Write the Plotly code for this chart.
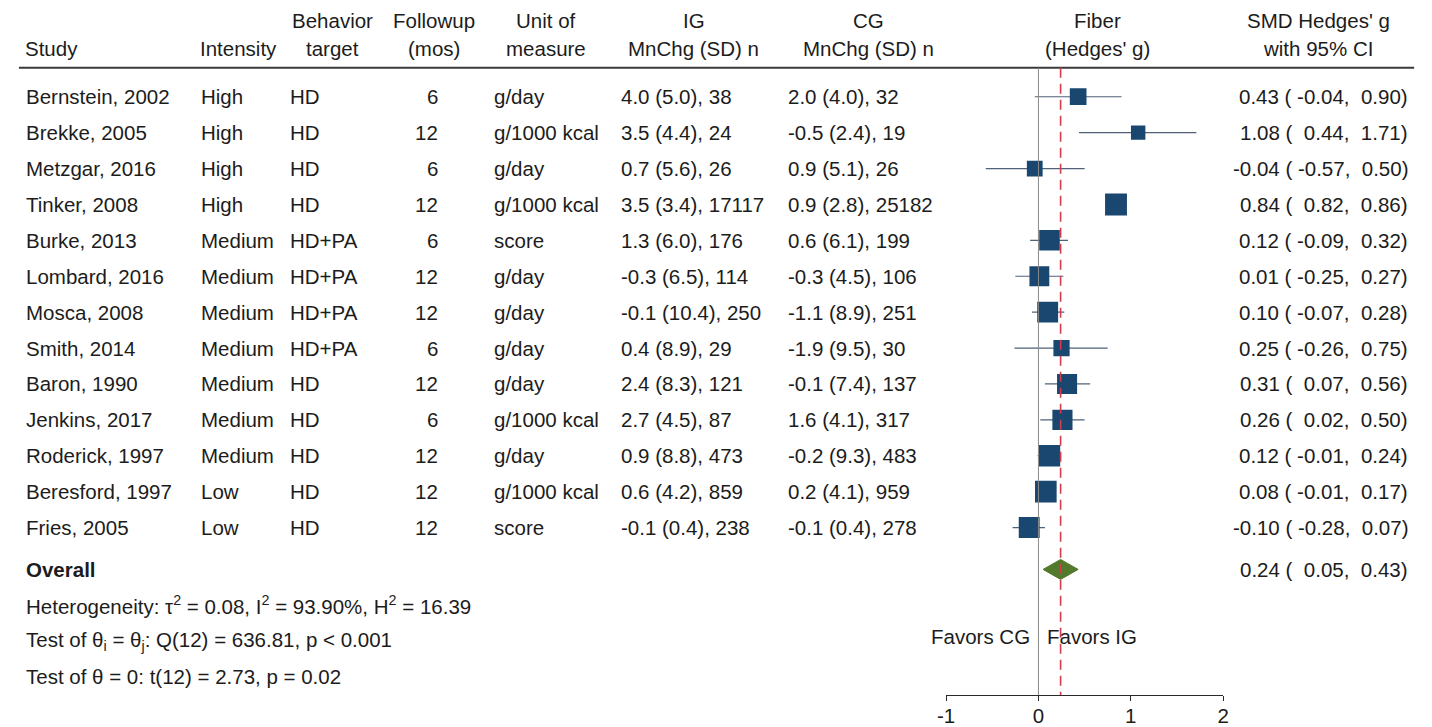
import plotly.graph_objects as go
import numpy as np

# ---- study-level data ----
studies = ["Bernstein, 2002", "Brekke, 2005", "Metzgar, 2016", "Tinker, 2008",
           "Burke, 2013", "Lombard, 2016", "Mosca, 2008", "Smith, 2014",
           "Baron, 1990", "Jenkins, 2017", "Roderick, 1997", "Beresford, 1997",
           "Fries, 2005"]
intensity = ["High", "High", "High", "High", "Medium", "Medium", "Medium",
             "Medium", "Medium", "Medium", "Medium", "Low", "Low"]
target = ["HD", "HD", "HD", "HD", "HD+PA", "HD+PA", "HD+PA", "HD+PA",
          "HD", "HD", "HD", "HD", "HD"]
followup = [6, 12, 6, 12, 6, 12, 12, 6, 12, 6, 12, 12, 12]
unit = ["g/day", "g/1000 kcal", "g/day", "g/1000 kcal", "score", "g/day",
        "g/day", "g/day", "g/day", "g/1000 kcal", "g/day", "g/1000 kcal", "score"]

ig_mean = [4.0, 3.5, 0.7, 3.5, 1.3, -0.3, -0.1, 0.4, 2.4, 2.7, 0.9, 0.6, -0.1]
ig_sd = [5.0, 4.4, 5.6, 3.4, 6.0, 6.5, 10.4, 8.9, 8.3, 4.5, 8.8, 4.2, 0.4]
ig_n = [38, 24, 26, 17117, 176, 114, 250, 29, 121, 87, 473, 859, 238]

cg_mean = [2.0, -0.5, 0.9, 0.9, 0.6, -0.3, -1.1, -1.9, -0.1, 1.6, -0.2, 0.2, -0.1]
cg_sd = [4.0, 2.4, 5.1, 2.8, 6.1, 4.5, 8.9, 9.5, 7.4, 4.1, 9.3, 4.1, 0.4]
cg_n = [32, 19, 26, 25182, 199, 106, 251, 30, 137, 317, 483, 959, 278]

smd = [0.43, 1.08, -0.04, 0.84, 0.12, 0.01, 0.10, 0.25, 0.31, 0.26, 0.12, 0.08, -0.10]
ci_lo = [-0.04, 0.44, -0.57, 0.82, -0.09, -0.25, -0.07, -0.26, 0.07, 0.02, -0.01, -0.01, -0.28]
ci_hi = [0.90, 1.71, 0.50, 0.86, 0.32, 0.27, 0.28, 0.75, 0.56, 0.50, 0.24, 0.17, 0.07]

overall = 0.24
overall_lo = 0.05
overall_hi = 0.43
tau2 = 0.08

axis_ticks = [-1, 0, 1, 2]

# ---- layout constants ----
W, H = 1432, 727
FONT = "Liberation Sans, Arial, Helvetica, sans-serif"
FS = 20.5
TXT = "#1c1c1c"
NAVY = "#1a476f"
GREEN = "#527a2a"
RED = "#d23c4e"

AXIS_PX = 697          # pixel row of the x-axis line
ROW0_PX, ROW_STEP = 97, 36

rows = np.arange(len(studies))


def row_of(py):
    return (py - ROW0_PX) / ROW_STEP


def px(x):
    return x / W


y_top = row_of(0)
y_bottom = row_of(AXIS_PX)
y_overall = row_of(571)
y_hdr1, y_hdr2, y_rule = row_of(21), row_of(49), row_of(68)


def fmt_ci(e, lo, hi):
    s = f"{e:.2f} ({lo:6.2f}, {hi:5.2f})"
    return s.replace(" ", "\u00a0")


# random-effects weights give the square sizes
se = (np.array(ci_hi) - np.array(ci_lo)) / (2 * 1.96)
w = 1.0 / (se ** 2 + tau2)
sizes = 6.2 * np.sqrt(w)

fig = go.Figure()

# confidence-interval whiskers
ci_x, ci_y = [], []
for i in rows:
    ci_x += [ci_lo[i], ci_hi[i], None]
    ci_y += [i, i, None]
fig.add_trace(go.Scatter(x=ci_x, y=ci_y, mode="lines",
                         line=dict(color="#4f6278", width=1.2),
                         hoverinfo="skip", showlegend=False))

# study estimates
fig.add_trace(go.Scatter(x=smd, y=rows, mode="markers",
                         marker=dict(symbol="square", size=sizes, color=NAVY,
                                     opacity=1, line=dict(width=0)),
                         showlegend=False))

# overall diamond
dh = 10 / ROW_STEP
fig.add_trace(go.Scatter(x=[overall_lo, overall, overall_hi, overall, overall_lo],
                         y=[y_overall, y_overall - dh, y_overall, y_overall + dh, y_overall],
                         mode="lines", fill="toself", fillcolor=GREEN,
                         line=dict(color=GREEN, width=1), showlegend=False,
                         hoverinfo="skip"))

shapes = [
    # header rule
    dict(type="line", xref="paper", yref="y", x0=px(10), x1=px(1420),
         y0=y_rule, y1=y_rule, line=dict(color="#3a3a3a", width=2)),
    # no-effect line
    dict(type="line", xref="x", yref="y", x0=0, x1=0, y0=y_rule, y1=y_bottom,
         line=dict(color="#8a8a8a", width=1)),
    # overall effect line
    dict(type="line", xref="x", yref="y", x0=overall, x1=overall,
         y0=y_rule, y1=y_bottom,
         line=dict(color=RED, width=1.6, dash="10px,6px")),
]

ann = []


def add_text(x, y, text, anchor="left", bold=False):
    ann.append(dict(x=px(x), y=y, xref="paper", yref="y",
                    text=f"<b>{text}</b>" if bold else text,
                    showarrow=False, xanchor=anchor, yanchor="middle",
                    borderpad=0,
                    font=dict(family=FONT, size=FS, color=TXT)))


# column headers
add_text(15, y_hdr2, "Study")
add_text(192, y_hdr2, "Intensity")
add_text(327, y_hdr1, "Behavior", "center")
add_text(327, y_hdr2, "target", "center")
add_text(430, y_hdr1, "Followup", "center")
add_text(430, y_hdr2, "(mos)", "center")
add_text(543, y_hdr1, "Unit of", "center")
add_text(543, y_hdr2, "measure", "center")
add_text(692, y_hdr1, "IG", "center")
add_text(692, y_hdr2, "MnChg (SD) n", "center")
add_text(869, y_hdr1, "CG", "center")
add_text(869, y_hdr2, "MnChg (SD) n", "center")
add_text(1100, y_hdr1, "Fiber", "center")
add_text(1100, y_hdr2, "(Hedges' g)", "center")
add_text(1323, y_hdr1, "SMD Hedges' g", "center")
add_text(1323, y_hdr2, "with 95% CI", "center")

# study rows
for i in rows:
    add_text(16, i, studies[i])
    add_text(193, i, intensity[i])
    add_text(283, i, target[i])
    add_text(435, i, str(followup[i]), "right")
    add_text(489, i, unit[i])
    add_text(617, i, f"{ig_mean[i]:.1f} ({ig_sd[i]:.1f}), {ig_n[i]}")
    add_text(786, i, f"{cg_mean[i]:.1f} ({cg_sd[i]:.1f}), {cg_n[i]}")
    add_text(1415, i, fmt_ci(smd[i], ci_lo[i], ci_hi[i]), "right")

# overall row and summary statistics
add_text(16, y_overall, "Overall", bold=True)
add_text(1415, y_overall, fmt_ci(overall, overall_lo, overall_hi), "right")
add_text(16, row_of(607), "Heterogeneity: \u03c4<sup>2</sup> = 0.08, I<sup>2</sup> = 93.90%, H<sup>2</sup> = 16.39")
add_text(16, row_of(643), "Test of \u03b8<sub>i</sub> = \u03b8<sub>j</sub>: Q(12) = 636.81, p < 0.001")
add_text(16, row_of(678), "Test of \u03b8 = 0: t(12) = 2.73, p = 0.02")

# direction labels
add_text(1033, row_of(638), "Favors CG", "right")
add_text(1048, row_of(638), "Favors IG")

fig.update_layout(
    width=W, height=H,
    margin=dict(l=0, r=0, t=0, b=0),
    paper_bgcolor="white", plot_bgcolor="white",
    shapes=shapes, annotations=ann,
    xaxis=dict(domain=[px(947), px(1227)], range=[-1, 2],
               tickvals=axis_ticks, ticktext=[str(t) for t in axis_ticks],
               showgrid=False, zeroline=False, showline=True,
               linecolor="#2a2a2a", linewidth=1.2,
               ticks="outside", ticklen=5, tickcolor="#2a2a2a", tickwidth=1.2,
               ticklabelstandoff=-3,
               tickfont=dict(family=FONT, size=FS, color=TXT)),
    yaxis=dict(domain=[(H - AXIS_PX) / H, 1], range=[y_bottom, y_top], visible=False,
               showgrid=False, zeroline=False),
    showlegend=False,
)

fig.write_html("out.html")
